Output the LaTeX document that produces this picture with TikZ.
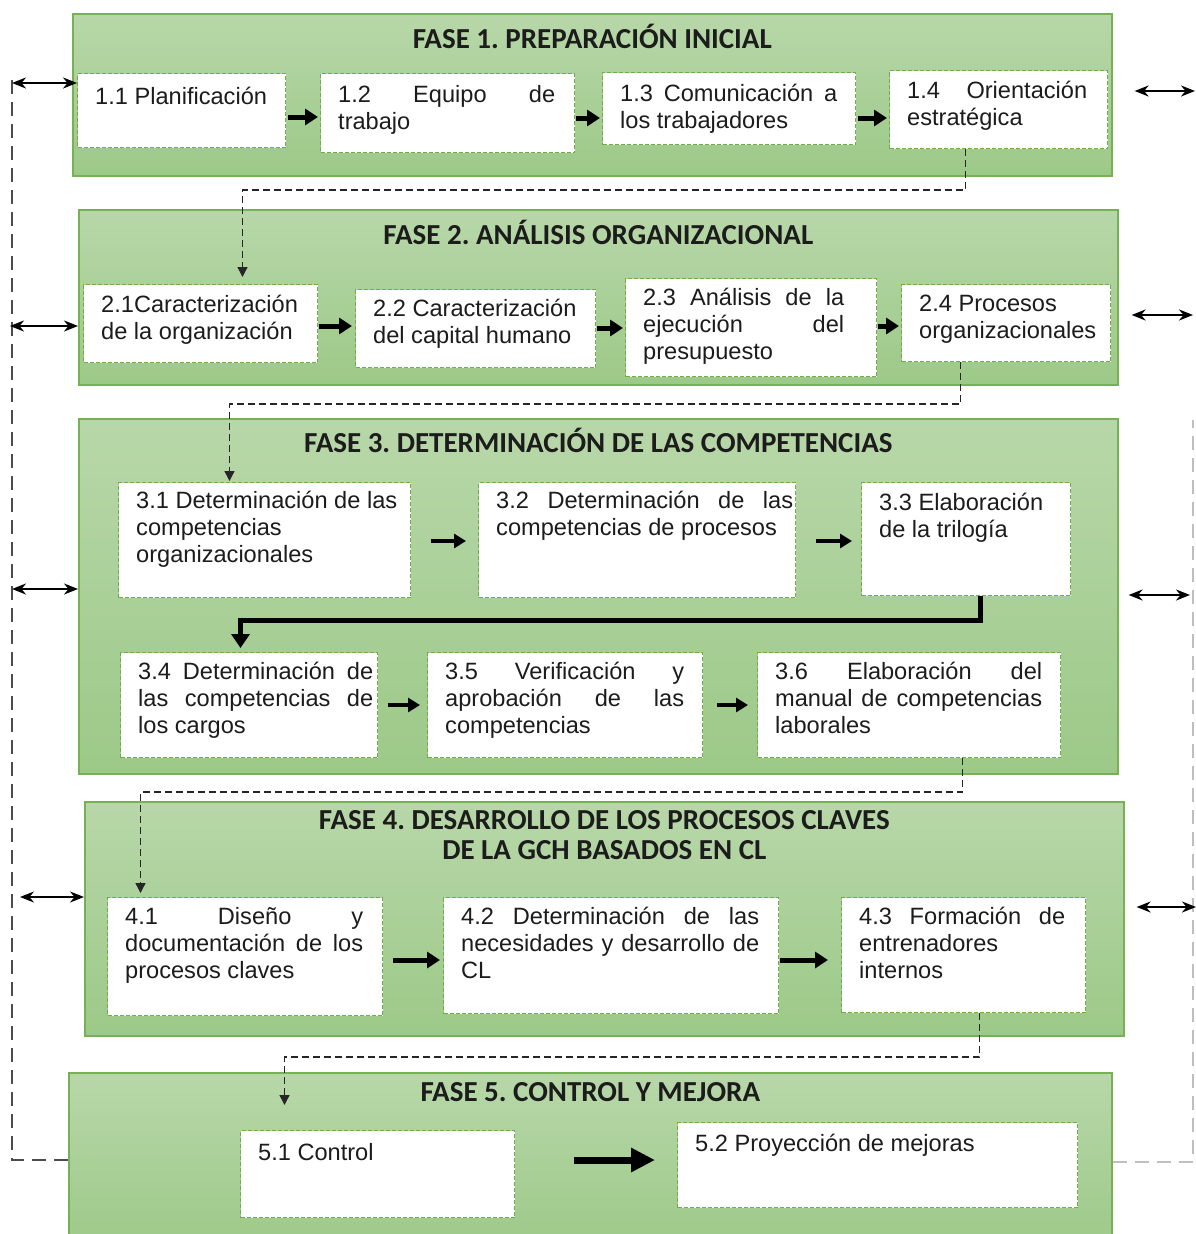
\documentclass[tikz,border=0pt]{standalone}
\usepackage{fontspec}
\setmainfont{Liberation Sans}
\newfontfamily\ttlfont{Carlito}
\usetikzlibrary{arrows.meta,calc}
\frenchspacing
\hyphenpenalty=10000
\exhyphenpenalty=10000
\setlength{\parindent}{0pt}
\definecolor{pTop}{RGB}{184,215,169}
\definecolor{pBot}{RGB}{156,201,136}
\definecolor{pEdge}{RGB}{118,178,84}
\definecolor{bEdge}{RGB}{112,173,71}
\definecolor{ink}{RGB}{28,28,28}
\newcommand\bxfont{\fontsize{23.6}{27}\selectfont}
\newcommand\ttfnt{\ttlfont\bfseries\fontsize{29}{30}\selectfont}
\tikzset{
  panel/.style={draw=pEdge, line width=1.6pt, top color=pTop, bottom color=pBot, anchor=north west, inner sep=0pt},
  stepbox/.style={draw=bEdge, dash pattern=on 4pt off 2pt, fill=white, line width=1pt, anchor=north west, inner sep=0pt},
  btext/.style={anchor=north west, inner sep=0pt, align=justify, text=ink, font=\bxfont},
  ttl/.style={font=\ttfnt, text=ink, align=center, inner sep=0pt},
  flow/.style={line width=5pt, -{Triangle[length=13pt,width=16pt]}},
  flowsm/.style={line width=4.5pt, -{Triangle[length=12pt,width=14pt]}},
  flowbig/.style={line width=7pt, -{Triangle[length=24pt,width=23pt]}},
  dbl/.style={line width=2pt, {Stealth[length=14pt,width=11pt]}-{Stealth[length=14pt,width=11pt]}},
  dconn/.style={line width=1.3pt, dash pattern=on 7pt off 4pt, black!85, -{Triangle[length=10pt,width=10pt]}},
  thickconn/.style={line width=5pt, -{Triangle[length=14pt,width=18pt]}},
  loopL/.style={line width=1.6pt, dash pattern=on 14pt off 8pt, black!70},
  loopR/.style={line width=1.3pt, dash pattern=on 14pt off 8pt, black!25},
}
\newcommand\phbox[8]{%
  \node[stepbox, minimum width={(#4-#2)*1pt}, minimum height={(#5-#3)*1pt}] (#1) at (#2,#3) {};
  \node[btext, text width=#6pt] (#1t) at ($(#2,#3)+(18,#7)$) {#8};}
\begin{document}
\begin{tikzpicture}[x=1pt,y=-1pt]
\useasboundingbox (0,0) rectangle (1196,1234);
\clip (0,0) rectangle (1196,1234);

% panels
\node[panel, minimum width=1039pt, minimum height=162pt] (p1) at (72,13) {};
\node[panel, minimum width=1039pt, minimum height=175pt] (p2) at (78,209) {};
\node[panel, minimum width=1039pt, minimum height=355pt] (p3) at (78,418) {};
\node[panel, minimum width=1039pt, minimum height=234pt] (p4) at (84,801) {};
\node[panel, minimum width=1043pt, minimum height=180pt] (p5) at (68,1072) {};

% titles
\node[ttl] (t1) at ($(p1.north)+(0,23)$) {FASE 1. PREPARACIÓN INICIAL};
\node[ttl] (t2) at ($(p2.north)+(0,23)$) {FASE 2. ANÁLISIS ORGANIZACIONAL};
\node[ttl] (t3) at ($(p3.north)+(0,22)$) {FASE 3. DETERMINACIÓN DE LAS COMPETENCIAS};
\node[ttl] (t4) at ($(p4.north)+(0,34)$) {FASE 4. DESARROLLO DE LOS PROCESOS CLAVES\\DE LA GCH BASADOS EN CL};
\node[ttl] (t5) at ($(p5.north)+(0,20)$) {FASE 5. CONTROL Y MEJORA};

% boxes
\phbox{b11}{77}{73}{285}{147}{190}{14}{1.1 Planificación}
\phbox{b12}{320}{73}{574}{152}{217}{12}{1.2 Equipo de\linebreak trabajo}
\phbox{b13}{602}{72}{855}{144}{217}{12}{1.3 Comunicación a\linebreak los trabajadores}
\phbox{b14}{889}{70}{1107}{148}{180}{11}{1.4 Orientación\linebreak estratégica}

\phbox{b21}{83}{284}{317}{362}{205}{11}{2.1Caracterización\\ de la organización}
\phbox{b22}{355}{289}{595}{367}{215}{10}{\fontsize{23.6}{31}\selectfont 2.2 Caracterización\\ del capital humano}
\phbox{b23}{625}{278}{876}{376}{201}{10}{2.3 Análisis de la\linebreak ejecución del\linebreak presupuesto}
\phbox{b24}{901}{284}{1110}{361}{185}{11}{\fontsize{23.6}{30}\selectfont 2.4 Procesos\\ organizacionales}

\phbox{b31}{118}{482}{410}{597}{270}{9}{3.1 Determinación de las\\ competencias\\ organizacionales}
\phbox{b32}{478}{482}{795}{597}{297}{9}{3.2 Determinación de las\linebreak competencias de procesos}
\phbox{b33}{861}{482}{1070}{595}{185}{11}{3.3 Elaboración\\ de la trilogía}
\phbox{b34}{120}{652}{377}{757}{235}{10}{3.4 Determinación de\linebreak las competencias de\linebreak los cargos}
\phbox{b35}{427}{652}{702}{757}{239}{10}{3.5 Verificación y\linebreak aprobación de las\linebreak competencias}
\phbox{b36}{757}{652}{1060}{757}{267}{10}{3.6 Elaboración del\linebreak manual de competencias\linebreak laborales}

\phbox{b41}{107}{897}{382}{1015}{238}{10}{4.1 Diseño y\linebreak documentación de los\linebreak procesos claves}
\phbox{b42}{443}{897}{778}{1013}{298}{10}{4.2 Determinación de las\linebreak necesidades y desarrollo de\linebreak CL}
\phbox{b43}{841}{897}{1085}{1012}{206}{10}{4.3 Formación de\linebreak entrenadores\\ internos}

\phbox{b51}{240}{1130}{514}{1217}{240}{13}{5.1 Control}
\phbox{b52}{677}{1122}{1077}{1207}{350}{12}{5.2 Proyección de mejoras}

% row levels
\coordinate (y11) at (0,117);
\coordinate (y12) at (0,118);
\coordinate (y21) at (0,326);
\coordinate (y22) at (0,328);
\coordinate (y31) at (0,541);
\coordinate (y34) at (0,705);
\coordinate (y41) at (0,960);
\coordinate (y51) at (0,1160);

% flow arrows
\draw[flow, shorten <=2pt, shorten >=2pt] (b11.east |- y11) -- (b12.west |- y11);
\draw[flow, shorten <=1pt, shorten >=2pt] (b12.east |- y12) -- (b13.west |- y12);
\draw[flow, shorten <=2pt, shorten >=2pt] (b13.east |- y12) -- (b14.west |- y12);
\draw[flow, shorten <=1pt, shorten >=3pt] (b21.east |- y21) -- (b22.west |- y21);
\draw[flow, shorten <=1pt, shorten >=2pt] (b22.east |- y22) -- (b23.west |- y22);
\draw[flow, shorten <=1pt, shorten >=2pt] (b23.east |- y21) -- (b24.west |- y21);
\draw[flowsm, shorten <=20pt, shorten >=12pt] (b31.east |- y31) -- (b32.west |- y31);
\draw[flowsm, shorten <=20pt, shorten >=9pt] (b32.east |- y31) -- (b33.west |- y31);
\draw[flowsm, shorten <=10pt, shorten >=7pt] (b34.east |- y34) -- (b35.west |- y34);
\draw[flowsm, shorten <=14pt, shorten >=9pt] (b35.east |- y34) -- (b36.west |- y34);
\draw[flow, shorten <=10pt, shorten >=3pt] (b41.east |- y41) -- (b42.west |- y41);
\draw[flow, shorten <=1pt, shorten >=13pt] (b42.east |- y41) -- (b43.west |- y41);
\draw[flowbig, shorten <=59pt, shorten >=22pt] (b51.east |- y51) -- (b52.west |- y51);

% thick connector 3.3 -> 3.4
\coordinate (j5) at (0,620);
\coordinate (s5) at ([xshift=14.5pt]b33.south);
\coordinate (e5) at ([xshift=-8.5pt]b34.north);
\draw[thickconn, shorten >=4pt] (s5) -- (s5 |- j5) -| (e5);

% dashed connectors between phases
\coordinate (j1) at (0,190);
\coordinate (s1) at ([xshift=-33pt]b14.south);
\coordinate (e1) at ([xshift=42pt]b21.north);
\draw[dconn, shorten >=7pt] (s1) -- (s1 |- j1) -| (e1);

\coordinate (j2) at (0,404);
\coordinate (s2) at ([xshift=-45.5pt]b24.south);
\coordinate (e2) at ([xshift=-35pt]b31.north);
\draw[dconn, shorten >=1pt] (s2) -- (s2 |- j2) -| (e2);

\coordinate (j3) at (0,792);
\coordinate (s3) at ([xshift=53.5pt]b36.south);
\coordinate (e3) at ([xshift=-104.5pt]b41.north);
\draw[dconn, shorten >=4pt] (s3) -- (s3 |- j3) -| (e3);

\coordinate (j4) at (0,1057);
\coordinate (s4) at ([xshift=16pt]b43.south);
\coordinate (e4) at ([xshift=-93pt]b51.north);
\draw[dconn, shorten >=25pt] (s4) -- (s4 |- j4) -| (e4);

% outer feedback loops
\coordinate (yL) at (0,1160);
\coordinate (LL1) at (12,1160);
\coordinate (LL2) at (12,78);
\draw[loopL] (p5.west |- yL) -- (LL1) -- (LL2);
\coordinate (yR) at (0,1162);
\coordinate (RR1) at (1193,1162);
\coordinate (RR2) at (1193,420);
\draw[loopR] (p5.east |- yR) -- (RR1) -- (RR2);

% left double arrows
\coordinate (la1) at (12,83);
\coordinate (la2) at (10,326);
\coordinate (la3) at (12,589);
\coordinate (la4) at (20,897);
\draw[dbl] (la1) -- (b11.west |- la1);
\draw[dbl] (la2) -- (p2.west |- la2);
\draw[dbl] (la3) -- (p3.west |- la3);
\draw[dbl] (la4) -- (p4.west |- la4);

% right double arrows
\coordinate (ra1) at (1195,91);
\coordinate (ra2) at (1193,315);
\coordinate (ra3) at (1190,595);
\coordinate (ra4) at (1196,907);
\draw[dbl, shorten <=22pt] (p1.east |- ra1) -- (ra1);
\draw[dbl, shorten <=13pt] (p2.east |- ra2) -- (ra2);
\draw[dbl, shorten <=10pt] (p3.east |- ra3) -- (ra3);
\draw[dbl, shorten <=12pt] (p4.east |- ra4) -- (ra4);
\end{tikzpicture}
\end{document}
